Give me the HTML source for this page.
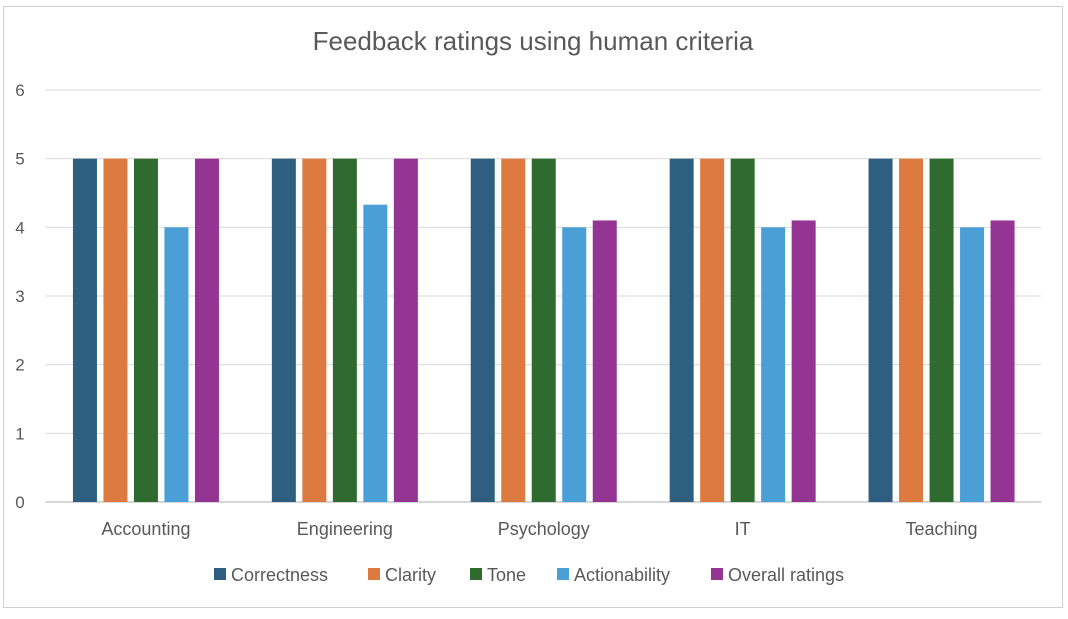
<!DOCTYPE html>
<html><head><meta charset="utf-8"><style>
body{margin:0;background:#fff;}
svg text{font-family:"Liberation Sans",Arial,sans-serif;}
</style></head><body>
<svg width="1068" height="614" xmlns="http://www.w3.org/2000/svg">
<rect x="3.5" y="6.5" width="1059" height="601" fill="#fff" stroke="#d0d0d0" stroke-width="1"/>
<text x="533" y="50" text-anchor="middle" font-size="26" fill="#595959">Feedback ratings using human criteria</text>
<g id="grid"></g><g id="bars"></g><g id="legend"></g>
</svg>
<script>
const categories=["Accounting","Engineering","Psychology","IT","Teaching"];
const seriesNames=["Correctness","Clarity","Tone","Actionability","Overall ratings"];
const correctness=[5,5,5,5,5];
const clarity=[5,5,5,5,5];
const tone=[5,5,5,5,5];
const actionability=[4,4.33,4,4,4];
const overall=[5,5,4.1,4.1,4.1];
const yTicks=[0,1,2,3,4,5,6];
const series=[correctness,clarity,tone,actionability,overall];
const colors=["#2e5f80","#dc7a3f","#2f6a2e","#4a9fd6","#943493"];
const NS="http://www.w3.org/2000/svg";
const x0=46.5,x1=1041,yTop=90,yBot=502;
const y=v=>yBot-(v/6)*(yBot-yTop);
const cw=(x1-x0)/categories.length;
function mk(t,a,p){const e=document.createElementNS(NS,t);for(const k in a)e.setAttribute(k,a[k]);p.appendChild(e);return e;}
const grid=document.getElementById('grid');
yTicks.forEach(t=>{
  const l=mk('line',{x1:x0-1,x2:x1,y1:y(t),y2:y(t),stroke:t===0?'#c8c8c8':'#d9d9d9','stroke-width':t===0?1.5:1},grid);
  
  
  const tx=mk('text',{x:20,y:y(t)+6,'text-anchor':'middle','font-size':17,fill:'#595959'},grid);
  tx.textContent=t;
  
  
});
const bars=document.getElementById('bars');
const bw=24,gap=6.5,gw=5*bw+4*gap;
categories.forEach((c,i)=>{
  const cx=x0+cw*(i+0.5);
  series.forEach((s,j)=>{
    const bx=cx-gw/2+j*(bw+gap);
    const r=mk('rect',{x:bx,y:y(s[i]),width:bw,height:yBot-y(s[i]),fill:colors[j]},bars);
    
    
  });
  const t=mk('text',{x:cx,y:535,'text-anchor':'middle','font-size':18,fill:'#595959'},bars);
  t.textContent=c;
  
  
});
const lg=document.getElementById('legend');
const lx=[214,368,470,557,711];
seriesNames.forEach((n,j)=>{
  const g=mk('g',{},lg);
  
  
  mk('rect',{x:lx[j],y:568,width:12,height:12,fill:colors[j]},g);
  const t=mk('text',{x:lx[j]+17,y:581,'font-size':18,fill:'#595959'},g);
  t.textContent=n;
});
</script>
</body></html>
